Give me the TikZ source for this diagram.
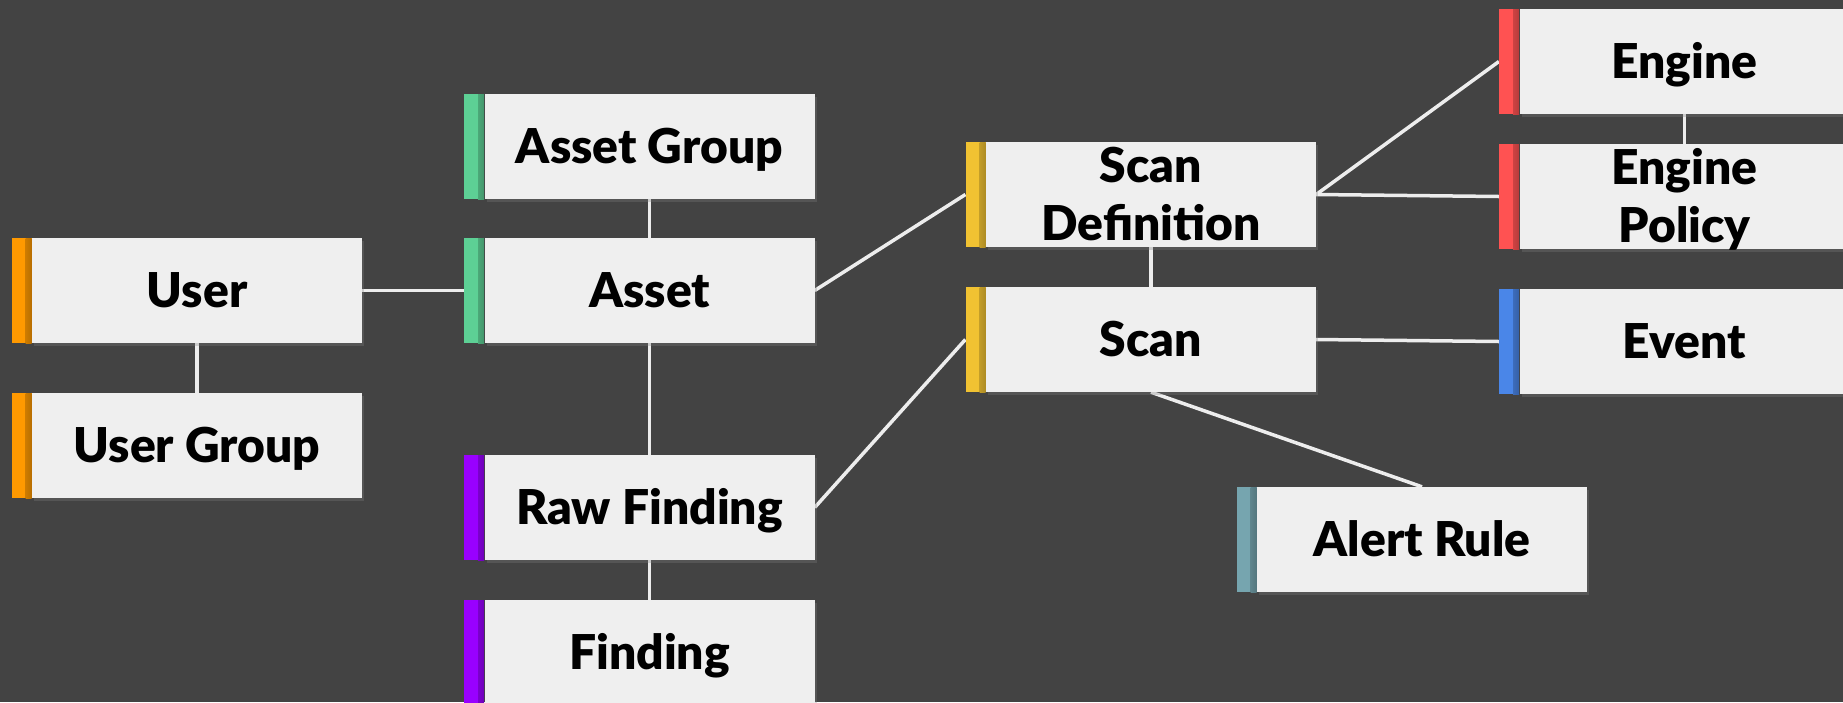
\documentclass[tikz,border=0pt]{standalone}
\usepackage{fontspec}
\setmainfont{Lato}[BoldFont=Lato Black]
\usetikzlibrary{positioning,shadows}

\definecolor{bggray}{HTML}{434343}
\definecolor{boxgray}{HTML}{EFEFEF}
\definecolor{linkgray}{HTML}{EDEDED}
\definecolor{userorange}{HTML}{FF9900}
\definecolor{assetgreen}{HTML}{5DD095}
\definecolor{findpurple}{HTML}{9900FF}
\definecolor{scanyellow}{HTML}{F1C232}
\definecolor{enginered}{HTML}{FF5252}
\definecolor{eventblue}{HTML}{4A86E8}
\definecolor{alertteal}{HTML}{76A5AF}

\pgfdeclarelayer{bg}
\pgfdeclarelayer{links}
\pgfsetlayers{bg,links,main}

\begin{document}
\begin{tikzpicture}[x=1pt,y=-1pt,
    entity/.style={rectangle, fill=boxgray, minimum width=330pt, minimum height=105pt,
        inner sep=0pt, align=center, text height=34pt, text depth=0pt,
        font=\bfseries\fontsize{48}{58.5}\selectfont,
        drop shadow={shadow xshift=2pt, shadow yshift=-3pt, opacity=0.3}},
    twoline/.style={text height=92.5pt},
    tab/.style={rectangle, fill=#1, minimum width=20pt, minimum height=105pt, inner sep=0pt,
        path picture={\shade[left color=#1, right color=#1!72!black]
            ([xshift=-6pt]path picture bounding box.north east)
            rectangle (path picture bounding box.south east);}},
    link/.style={draw=linkgray, line width=3.5pt}]
    \useasboundingbox (0,0) rectangle (1843,702);
    \begin{pgfonlayer}{bg}
        \fill[bggray] (0,0) rectangle (1843,702);
    \end{pgfonlayer}

    % users
    \node[entity] (user) at (197,290.5) {User};
    \node[entity] (usergroup) at (197,445.5) {User Group};
    % assets and findings
    \node[entity] (assetgroup) at (649.5,146.5) {Asset Group};
    \node[entity] (asset) at (649.5,290.5) {Asset};
    \node[entity] (rawfinding) at (649.5,507.5) {Raw Finding};
    \node[entity] (finding) at (649.5,652.5) {Finding};
    % scans
    \node[entity,twoline] (scandef) at (1151,194.5) {Scan\\Definition};
    \node[entity] (scan) at (1151,339.5) {Scan};
    \node[entity] (alertrule) at (1422,539.5) {Alert Rule};
    % engines and events
    \node[entity] (engine) at (1684.5,61.5) {Engine};
    \node[entity,twoline] (policy) at (1684.5,196.5) {Engine\\Policy};
    \node[entity] (event) at (1684.5,341.5) {Event};

    % coloured tabs on the left edge
    \foreach \n/\c in {user/userorange, usergroup/userorange,
                       assetgroup/assetgreen, asset/assetgreen,
                       rawfinding/findpurple, finding/findpurple,
                       scandef/scanyellow, scan/scanyellow,
                       engine/enginered, policy/enginered,
                       event/eventblue, alertrule/alertteal}
        \node[tab=\c, left=0pt of \n] (\n-tab) {};

    \begin{pgfonlayer}{links}
        \draw[link] (user.east) -- (asset-tab.west);
        \draw[link] (user.south) -- (usergroup.north);
        \draw[link] (assetgroup.south) -- (asset.north);
        \draw[link] (asset.south) -- (rawfinding.north);
        \draw[link] (rawfinding.south) -- (finding.north);
        \draw[link] (asset.east) -- (scandef-tab.west);
        \draw[link] (rawfinding.east) -- (scan-tab.west);
        \draw[link] (scandef.south) -- (scan.north);
        \draw[link] (scandef.east) -- (engine-tab.west);
        \draw[link] (scandef.east) -- (policy-tab.west);
        \draw[link] (engine.south) -- (policy.north);
        \draw[link] (scan.east) -- (event-tab.west);
        \draw[link] (scan.south) -- (alertrule.north);
    \end{pgfonlayer}
\end{tikzpicture}
\end{document}
